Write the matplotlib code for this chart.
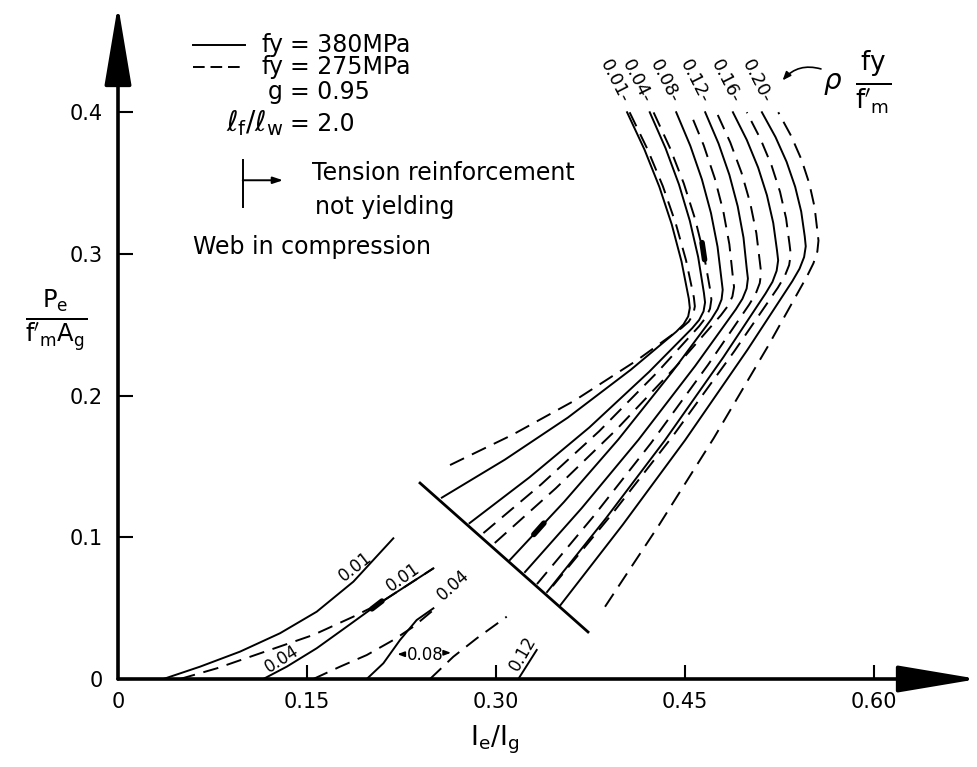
import matplotlib
matplotlib.use("Agg")
import matplotlib.pyplot as plt

# ---- upper family: web in compression, rho*fy/f'm = 0.01 ... 0.20 ----
rho_labels = ["0.01", "0.04", "0.08", "0.12", "0.16", "0.20"]

# fy = 380 MPa (solid)
s01_x = [0.257, 0.307, 0.357, 0.407, 0.443, 0.4488, 0.4525, 0.4538, 0.453,
         0.4472, 0.4394, 0.4296, 0.4178, 0.404]
s01_y = [0.128, 0.1548, 0.1845, 0.2183, 0.2451, 0.2503, 0.2559, 0.2619, 0.2684,
         0.2947, 0.3210, 0.3474, 0.3737, 0.400]
s04_x = [0.279, 0.3265, 0.374, 0.4215, 0.4557, 0.4612, 0.4647, 0.4659, 0.465,
         0.4604, 0.4538, 0.4452, 0.4346, 0.422]
s04_y = [0.110, 0.1423, 0.1775, 0.2168, 0.2476, 0.2534, 0.2595, 0.2658, 0.2724,
         0.2979, 0.3234, 0.3490, 0.3745, 0.400]
s08_x = [0.311, 0.354, 0.397, 0.440, 0.4710, 0.4759, 0.4790, 0.4799, 0.479,
         0.4758, 0.4706, 0.4634, 0.4542, 0.443]
s08_y = [0.084, 0.125, 0.169, 0.217, 0.2541, 0.2611, 0.2679, 0.2747, 0.2814,
         0.3051, 0.3288, 0.3526, 0.3763, 0.400]
s12_x = [0.323, 0.368, 0.413, 0.458, 0.4904, 0.4956, 0.4989, 0.4999, 0.499,
         0.4964, 0.4918, 0.4852, 0.4766, 0.466]
s12_y = [0.0755, 0.1206, 0.1688, 0.2209, 0.2610, 0.2684, 0.2756, 0.2826, 0.2894,
         0.3115, 0.3336, 0.3558, 0.3779, 0.400]
s16_x = [0.3405, 0.3871, 0.4338, 0.4804, 0.5139, 0.5194, 0.5227, 0.5239, 0.523,
         0.520, 0.515, 0.508, 0.499, 0.488]
s16_y = [0.0614, 0.1133, 0.1682, 0.2271, 0.2721, 0.2803, 0.2881, 0.2955, 0.3024,
         0.3219, 0.3414, 0.3610, 0.3805, 0.400]
s20_x = [0.351, 0.4005, 0.450, 0.4995, 0.5351, 0.5409, 0.5445, 0.5458, 0.545,
         0.5422, 0.5374, 0.5306, 0.5218, 0.511]
s20_y = [0.052, 0.1088, 0.1685, 0.2323, 0.2807, 0.2896, 0.2978, 0.3054, 0.3124,
         0.3299, 0.3474, 0.3650, 0.3825, 0.400]

# fy = 275 MPa (dashed)
d01_x = [0.2635, 0.3129, 0.3623, 0.4116, 0.4472, 0.4529, 0.4565, 0.4578, 0.457,
         0.4508, 0.4426, 0.4324, 0.4202, 0.406]
d01_y = [0.151, 0.1723, 0.1965, 0.2248, 0.2477, 0.2522, 0.2573, 0.2630, 0.2694,
         0.2955, 0.3216, 0.3478, 0.3739, 0.400]
d04_x = [0.290, 0.336, 0.382, 0.428, 0.4611, 0.4665, 0.4698, 0.4709, 0.470,
         0.465, 0.458, 0.449, 0.438, 0.425]
d04_y = [0.103, 0.1375, 0.175, 0.2165, 0.2489, 0.2551, 0.2613, 0.2678, 0.2744,
         0.2995, 0.3246, 0.3498, 0.3749, 0.400]
d08_x = [0.299, 0.3473, 0.3955, 0.4438, 0.4785, 0.4841, 0.4876, 0.4889, 0.488,
         0.4852, 0.4804, 0.4736, 0.4648, 0.454]
d08_y = [0.096, 0.1345, 0.176, 0.2215, 0.2568, 0.2634, 0.2700, 0.2767, 0.2834,
         0.3067, 0.3300, 0.3534, 0.3767, 0.400]
d12_x = [0.3325, 0.3778, 0.423, 0.4683, 0.5008, 0.5061, 0.5093, 0.5104, 0.5095,
         0.5066, 0.5017, 0.4948, 0.4859, 0.475]
d12_y = [0.067, 0.1153, 0.1665, 0.2218, 0.2641, 0.2719, 0.2794, 0.2866, 0.2934,
         0.3147, 0.3360, 0.3574, 0.3787, 0.400]
d16_x = [0.345, 0.393, 0.441, 0.489, 0.5236, 0.5291, 0.5326, 0.5339, 0.533,
         0.5302, 0.5254, 0.5186, 0.5098, 0.499]
d16_y = [0.0656, 0.1175, 0.1723, 0.2312, 0.2761, 0.2843, 0.2921, 0.2995, 0.3064,
         0.3251, 0.3438, 0.3626, 0.3813, 0.400]
d20_x = [0.3865, 0.4296, 0.4728, 0.5159, 0.5469, 0.5519, 0.555, 0.5559, 0.555,
         0.5528, 0.5486, 0.5424, 0.5342, 0.524]
d20_y = [0.051, 0.109, 0.170, 0.235, 0.2844, 0.2934, 0.3017, 0.3094, 0.3164,
         0.3331, 0.3498, 0.3666, 0.3833, 0.400]

# ---- lower family: tension reinforcement yielding ----
sl01_x = [0.036, 0.0651, 0.0968, 0.1286, 0.1577, 0.1868, 0.2185]
sl01_y = [0.0, 0.0087, 0.0193, 0.0323, 0.0475, 0.0687, 0.0993]
dl01_x = [0.0492, 0.0783, 0.1127, 0.155, 0.1868, 0.2053, 0.2503]
dl01_y = [0.0, 0.0075, 0.0181, 0.0311, 0.044, 0.0522, 0.0781]
sl04_x = [0.1153, 0.1339, 0.1577, 0.1815, 0.2053, 0.2503]
sl04_y = [0.0, 0.0087, 0.0217, 0.0369, 0.0522, 0.0781]
dl04_x = [0.155, 0.1762, 0.1974, 0.2185, 0.2344, 0.2503]
dl04_y = [0.0, 0.0087, 0.0169, 0.0275, 0.0369, 0.0487]
sl08_x = [0.1974, 0.2106, 0.2238, 0.2370, 0.2503]
sl08_y = [0.0, 0.0111, 0.0275, 0.0416, 0.0499]
dl08_x = [0.2476, 0.2661, 0.2847, 0.3085]
dl08_y = [0.0, 0.0157, 0.0287, 0.044]
sl12_x = [0.3177, 0.3323]
sl12_y = [0.0, 0.0205]

# boundary between the two regions
bound_x = [0.2397, 0.3730]
bound_y = [0.1383, 0.0332]

# heavy ink marks along a few curves (start x, start y, end x, end y)
blobs = [(0.330, 0.102, 0.338, 0.110),
         (0.2015, 0.0495, 0.2095, 0.0550),
         (0.4655, 0.2960, 0.4635, 0.3080)]

xticks = [0, 0.15, 0.30, 0.45, 0.60]
xticklabels = ["0", "0.15", "0.30", "0.45", "0.60"]
yticks = [0, 0.1, 0.2, 0.3, 0.4]
yticklabels = ["0", "0.1", "0.2", "0.3", "0.4"]

LW = 1.4
DASH = (0, (8, 4.5))

fig = plt.figure(figsize=(9.78, 7.67), dpi=100)
ax = fig.add_axes([118 / 978, 88 / 767, 860 / 978, 674 / 767])
ax.set_xlim(0, 0.6825)
ax.set_ylim(0, 0.4757)
for sp in ax.spines.values():
    sp.set_visible(False)

# axes drawn as arrows
arrow_kw = dict(arrowstyle="-|>,head_length=2.5,head_width=0.42",
                mutation_scale=20, lw=2.6, color="black", shrinkA=0, shrinkB=0)
ax.annotate("", xy=(1.0, 0), xytext=(0, 0), xycoords="axes fraction",
            arrowprops=arrow_kw, annotation_clip=False)
ax.annotate("", xy=(0, 1.0), xytext=(0, 0), xycoords="axes fraction",
            arrowprops=arrow_kw, annotation_clip=False)

ax.set_xticks(xticks)
ax.set_xticklabels(xticklabels)
ax.set_yticks(yticks)
ax.set_yticklabels(yticklabels)
ax.tick_params(axis="x", direction="in", length=10, width=1.5, labelsize=15, pad=9)
ax.tick_params(axis="y", direction="in", length=11, width=1.5, labelsize=15, pad=11)

upper_solid = [(s01_x, s01_y), (s04_x, s04_y), (s08_x, s08_y),
               (s12_x, s12_y), (s16_x, s16_y), (s20_x, s20_y)]
upper_dash = [(d01_x, d01_y), (d04_x, d04_y), (d08_x, d08_y),
              (d12_x, d12_y), (d16_x, d16_y), (d20_x, d20_y)]
for xs, ys in upper_solid:
    ax.plot(xs, ys, color="black", lw=LW, solid_joinstyle="round")
for xs, ys in upper_dash:
    ax.plot(xs, ys, color="black", lw=LW, linestyle=DASH, dash_joinstyle="round")

for xs, ys in [(sl01_x, sl01_y), (sl04_x, sl04_y), (sl08_x, sl08_y), (sl12_x, sl12_y)]:
    ax.plot(xs, ys, color="black", lw=LW)
for xs, ys in [(dl01_x, dl01_y), (dl04_x, dl04_y), (dl08_x, dl08_y)]:
    ax.plot(xs, ys, color="black", lw=LW, linestyle=DASH)

ax.plot(bound_x, bound_y, color="black", lw=2.0)

for x0, y0, x1, y1 in blobs:
    ax.plot([x0, x1], [y0, y1], color="black", lw=4.0, solid_capstyle="round")

# curve labels at the top of the upper family
top_lx = [0.394, 0.412, 0.434, 0.458, 0.482, 0.507]
for lx, lab in zip(top_lx, rho_labels):
    ax.text(lx, 0.422, lab + "-", rotation=-63, fontsize=13,
            ha="center", va="center", rotation_mode="anchor")

ax.text(0.567, 0.421, r"$\rho$", fontsize=20, ha="center", va="center")
ax.text(0.599, 0.421, r"$\frac{\mathrm{fy}}{\mathrm{f}'_{\mathrm{m}}}$",
        fontsize=27, ha="center", va="center")
ax.annotate("", xy=(0.526, 0.421), xytext=(0.560, 0.430),
            arrowprops=dict(arrowstyle="-|>,head_length=0.5,head_width=0.2",
                            lw=1.2, color="black",
                            connectionstyle="arc3,rad=0.35"))

# labels of the lower family
ax.text(0.188, 0.079, "0.01", rotation=38, fontsize=12, ha="center", va="center")
ax.text(0.226, 0.072, "0.01", rotation=35, fontsize=12, ha="center", va="center")
ax.text(0.130, 0.014, "0.04", rotation=32, fontsize=12, ha="center", va="center")
ax.text(0.266, 0.066, "0.04", rotation=42, fontsize=12, ha="center", va="center")
ax.text(0.2437, 0.017, "0.08", fontsize=12, ha="center", va="center")
ax.text(0.3214, 0.018, "0.12", rotation=60, fontsize=12, ha="center", va="center")
ax.annotate("", xy=(0.2195, 0.0175), xytext=(0.229, 0.0175),
            arrowprops=dict(arrowstyle="-|>,head_length=0.4,head_width=0.15",
                            lw=1.2, color="black"))
ax.annotate("", xy=(0.2665, 0.0185), xytext=(0.2575, 0.0185),
            arrowprops=dict(arrowstyle="-|>,head_length=0.4,head_width=0.15",
                            lw=1.2, color="black"))

# key in the upper left corner
FS = 17
ax.plot([0.0595, 0.1008], [0.4474, 0.4474], color="black", lw=LW)
ax.plot([0.0595, 0.1008], [0.432, 0.432], color="black", lw=LW, linestyle=(0, (6, 3)))
ax.text(0.131, 0.4474, "fy", fontsize=FS, ha="right", va="center")
ax.text(0.1365, 0.4474, "= 380MPa", fontsize=FS, ha="left", va="center")
ax.text(0.131, 0.432, "fy", fontsize=FS, ha="right", va="center")
ax.text(0.1365, 0.432, "= 275MPa", fontsize=FS, ha="left", va="center")
ax.text(0.131, 0.414, "g", fontsize=FS, ha="right", va="center")
ax.text(0.1365, 0.414, "= 0.95", fontsize=FS, ha="left", va="center")
ax.text(0.131, 0.392, r"$\ell_{\mathrm{f}}/\ell_{\mathrm{w}}$", fontsize=FS + 3,
        ha="right", va="center")
ax.text(0.1365, 0.392, "= 2.0", fontsize=FS, ha="left", va="center")

ax.plot([0.099, 0.099], [0.333, 0.366], color="black", lw=1.4)
ax.annotate("", xy=(0.131, 0.352), xytext=(0.099, 0.352),
            arrowprops=dict(arrowstyle="-|>,head_length=0.6,head_width=0.2",
                            lw=1.4, color="black", shrinkA=0, shrinkB=0))
ax.text(0.154, 0.357, "Tension reinforcement", fontsize=FS, ha="left", va="center")
ax.text(0.156, 0.333, "not yielding", fontsize=FS, ha="left", va="center")
ax.text(0.0595, 0.305, "Web in compression", fontsize=FS, ha="left", va="center")

fig.text(56 / 978, 1 - 320 / 767, r"$\frac{\mathrm{P_e}}{\mathrm{f'_m A_g}}$",
         fontsize=25, ha="center", va="center")
fig.text(495 / 978, 1 - 740 / 767, r"$\mathrm{I_e/I_g}$", fontsize=19,
         ha="center", va="center")

fig.savefig("out.png", dpi=100)
